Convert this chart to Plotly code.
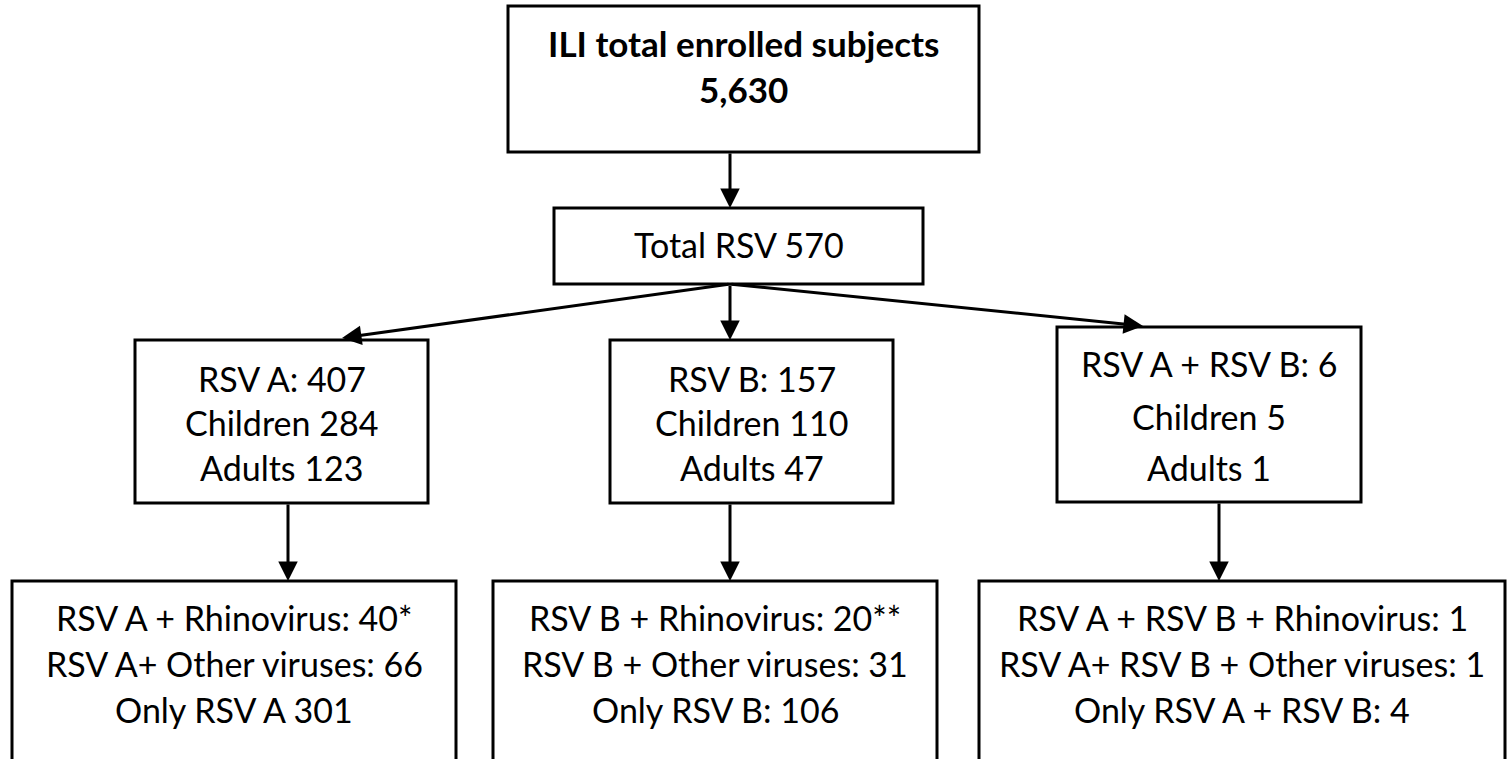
import plotly.graph_objects as go

# ---------------- data (text content of the flowchart) ----------------
top_lines = ["ILI total enrolled subjects", "5,630"]
total_lines = ["Total RSV 570"]
rsv_a_lines = ["RSV A: 407", "Children 284", "Adults 123"]
rsv_b_lines = ["RSV B: 157", "Children 110", "Adults 47"]
rsv_ab_lines = ["RSV A + RSV B: 6", "Children 5", "Adults 1"]
rsv_a_coinf = ["RSV A + Rhinovirus: 40*", "RSV A+ Other viruses: 66", "Only RSV A 301"]
rsv_b_coinf = ["RSV B + Rhinovirus: 20**", "RSV B + Other viruses: 31", "Only RSV B: 106"]
rsv_ab_coinf = ["RSV A + RSV B + Rhinovirus: 1", "RSV A+ RSV B + Other viruses: 1", "Only RSV A + RSV B: 4"]

# ---------------- layout geometry (pixels) ----------------
W, H = 1508, 759
FONT = "Lato"
BLACK = "#000000"

nodes = [
    # lines, box (x0, y0, x1, y1), line y-centres, bold
    (top_lines, (508, 6, 979, 152), [43, 89], True),
    (total_lines, (554, 208, 923, 284), [244], False),
    (rsv_a_lines, (135, 340, 428, 503), [378, 422.5, 467.5], False),
    (rsv_b_lines, (610, 340, 893, 503), [378, 422.5, 467.5], False),
    (rsv_ab_lines, (1057, 327, 1361, 502), [363, 416, 467], False),
    (rsv_a_coinf, (12, 581, 456, 800), [617.5, 663, 709], False),
    (rsv_b_coinf, (493, 581, 937, 800), [617.5, 663, 709], False),
    (rsv_ab_coinf, (979, 581, 1505, 800), [617.5, 663, 709], False),
]

# arrows: (tail x, tail y, tip x, tip y)
arrows = [
    (730, 152, 730, 208),
    (730, 284, 730, 340),
    (730, 284, 342, 338),
    (730, 284, 1143, 326),
    (288, 503, 288, 581),
    (730, 503, 730, 581),
    (1219, 502, 1219, 581),
]

fig = go.Figure()

shapes = []
annotations = []
for lines, (x0, y0, x1, y1), ys, bold in nodes:
    shapes.append(dict(type="rect", xref="x", yref="y", x0=x0, y0=y0, x1=x1, y1=y1,
                       line=dict(color=BLACK, width=3), fillcolor="rgba(0,0,0,0)",
                       layer="above"))
    cx = (x0 + x1) / 2
    for txt, yy in zip(lines, ys):
        annotations.append(dict(
            x=cx, y=yy, xref="x", yref="y", showarrow=False,
            text=f"<b>{txt}</b>" if bold else txt,
            xanchor="center", yanchor="middle",
            font=dict(family=FONT, size=35 if bold else 34, color=BLACK),
        ))

for tx, ty, hx, hy in arrows:
    annotations.append(dict(
        x=hx, y=hy, ax=tx, ay=ty, xref="x", yref="y", axref="x", ayref="y",
        text="", showarrow=True, arrowhead=2, arrowsize=1.3, arrowwidth=3,
        arrowcolor=BLACK, standoff=0, startstandoff=0,
    ))

fig.update_layout(
    width=W, height=H,
    margin=dict(l=0, r=0, t=0, b=0),
    paper_bgcolor="white", plot_bgcolor="white",
    xaxis=dict(range=[0, W], visible=False, fixedrange=True),
    yaxis=dict(range=[H, 0], visible=False, fixedrange=True),
    showlegend=False,
    shapes=shapes,
    annotations=annotations,
)

fig.write_html(
    "out.html",
    config={"displayModeBar": False, "staticPlot": True},
    post_script="document.body.style.margin='0';document.body.style.overflow='hidden';",
)
